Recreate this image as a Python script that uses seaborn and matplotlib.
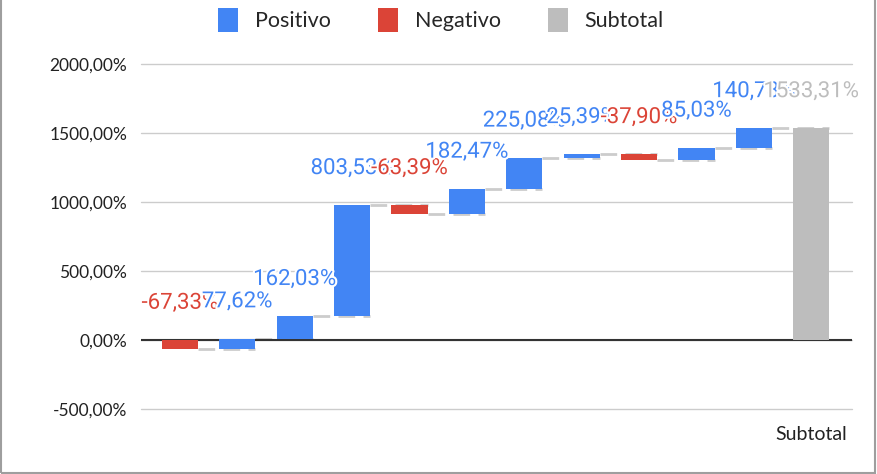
import matplotlib
matplotlib.use("Agg")
import matplotlib.pyplot as plt
import matplotlib.patheffects as pe
from matplotlib.patches import Patch, Rectangle
from matplotlib.ticker import FuncFormatter
import seaborn as sns
import numpy as np
import pandas as pd

# valores do gráfico (variação em %)
categorias = ["c1", "c2", "c3", "c4", "c5", "c6", "c7", "c8", "c9", "c10", "c11", "Subtotal"]
rotulos_x = ["", "", "", "", "", "", "", "", "", "", "", "Subtotal"]
variacoes = [-67.33, 77.62, 162.03, 803.53, -63.39, 182.47, 225.08, 25.39, -37.90, 85.03, 140.78, 1533.31]
tipos = ["Negativo", "Positivo", "Positivo", "Positivo", "Negativo", "Positivo",
         "Positivo", "Positivo", "Negativo", "Positivo", "Positivo", "Subtotal"]

cores = {"Positivo": "#4285F4", "Negativo": "#DB4437", "Subtotal": "#BDBDBD"}

# base de cada barra = acumulado anterior (subtotal parte do zero)
acumulado = np.cumsum(variacoes[:-1])
bases = np.concatenate([[0], acumulado[:-1], [0]])
fins = bases + np.array(variacoes)

df = pd.DataFrame({"categoria": categorias, "variacao": variacoes, "tipo": tipos})

sns.set_style("white")
plt.rcParams["font.family"] = ["Lato", "DejaVu Sans"]

fig = plt.figure(figsize=(8.77, 4.74), dpi=100)
ax = fig.add_axes([141 / 877, 65 / 474, 711 / 877, 345 / 474])

largura = 0.63
sns.barplot(data=df, x="categoria", y="variacao", order=categorias, color=cores["Positivo"],
            saturation=1, bottom=bases, width=largura, errorbar=None, ax=ax, zorder=3)

for barra, t in zip(ax.patches, tipos):
    barra.set_facecolor(cores[t])
    barra.set_edgecolor("none")

# linhas de ligação tracejadas
for i in range(len(categorias) - 1):
    ax.hlines(fins[i], i + largura / 2, i + 1 + largura / 2, colors="#cccccc",
              linewidth=2, linestyles=(0, (6, 3)), zorder=2)

# rótulos de dados
for i, (v, t) in enumerate(zip(variacoes, tipos)):
    topo = max(bases[i], fins[i])
    txt = f"{v:.2f}".replace(".", ",") + "%"
    ax.annotate(txt, (i, topo), xytext=(0, 22.5), textcoords="offset points",
                ha="center", va="baseline", color=cores[t], fontsize=16,
                family=["Roboto", "DejaVu Sans"], zorder=5, annotation_clip=False,
                path_effects=[pe.withStroke(linewidth=3, foreground="white")])

ax.set_ylim(-500, 2000)
ax.set_xlim(-0.68, 11.71)
ax.set_yticks([-500, 0, 500, 1000, 1500, 2000])
ax.yaxis.set_major_formatter(FuncFormatter(lambda v, p: f"{v:.2f}".replace(".", ",") + "%"))
ax.yaxis.grid(True, color="#cccccc", linewidth=1)
for g in ax.get_ygridlines():
    g.set_clip_on(False)
ax.set_axisbelow(True)
ax.axhline(0, color="#333333", linewidth=1.5, zorder=2)
ax.set_xticks(range(len(categorias)))
ax.set_xticklabels(rotulos_x)
ax.tick_params(axis="y", length=0, pad=10, labelsize=12.5, labelcolor="#222222")
ax.tick_params(axis="x", length=0, pad=12, labelsize=14, labelcolor="#222222")
ax.set_xlabel("")
ax.set_ylabel("")
sns.despine(ax=ax, left=True, bottom=True)

handles = [Patch(facecolor=cores[k], edgecolor="none") for k in ["Positivo", "Negativo", "Subtotal"]]
fig.legend(handles, ["Positivo", "Negativo", "Subtotal"], loc="center",
           bbox_to_anchor=(0.503, 1 - 20 / 474), ncol=3, frameon=False,
           fontsize=15.5, handlelength=0.9, handleheight=1.4,
           handletextpad=0.8, columnspacing=2.2)

# moldura cinza
fig.add_artist(Rectangle((0.001, 0.002), 0.997, 1.2, transform=fig.transFigure,
                         fill=False, edgecolor="#9e9e9e", linewidth=1.5))

fig.savefig("out.png", dpi=100)
